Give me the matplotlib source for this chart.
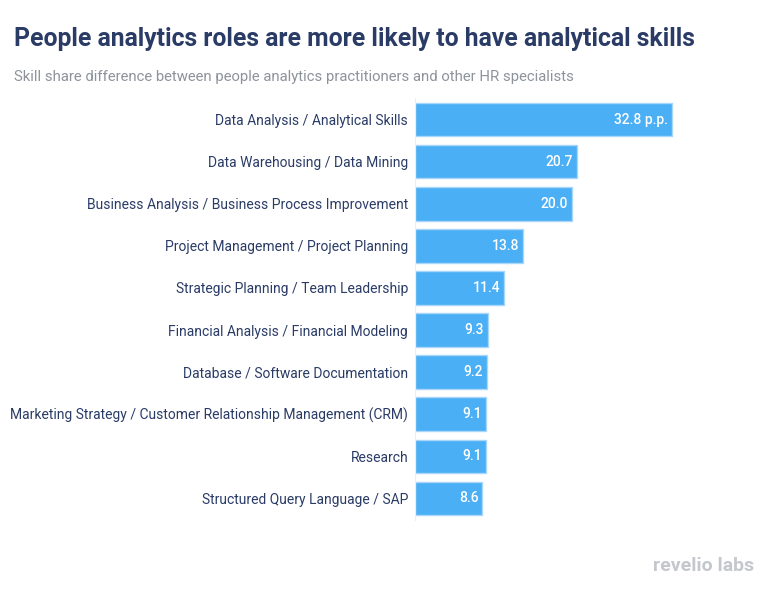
import matplotlib.pyplot as plt

# Data
skills = [
    "Data Analysis / Analytical Skills",
    "Data Warehousing / Data Mining",
    "Business Analysis / Business Process Improvement",
    "Project Management / Project Planning",
    "Strategic Planning / Team Leadership",
    "Financial Analysis / Financial Modeling",
    "Database / Software Documentation",
    "Marketing Strategy / Customer Relationship Management (CRM)",
    "Research",
    "Structured Query Language / SAP",
]
diff = [32.8, 20.7, 20.0, 13.8, 11.4, 9.3, 9.2, 9.1, 9.1, 8.6]
value_labels = ["32.8 p.p.", "20.7", "20.0", "13.8", "11.4", "9.3", "9.2", "9.1", "9.1", "8.6"]

navy = "#2a3b66"
grey = "#8c939b"
blue = "#4aaff5"

plt.rcParams["font.family"] = ["Roboto", "DejaVu Sans"]

fig = plt.figure(figsize=(7.64, 5.89), dpi=100)
ax = fig.add_axes([415 / 764, 1 - 520 / 589, 325 / 764, 422 / 589])

ypos = list(range(len(skills)))
ax.barh(ypos, diff, height=0.79, color=blue, edgecolor="#a9d6fb", linewidth=1)

for y, v, lab in zip(ypos, diff, value_labels):
    ax.text(v - 0.5, y, lab, color="white", fontsize=10, fontweight="medium",
            ha="right", va="center")

ax.set_xlim(0, 325 / 7.84)
ax.set_ylim(9.52, -0.52)
ax.set_yticks(ypos)
ax.set_yticklabels(skills, color=navy, fontsize=10)
ax.tick_params(axis="y", length=0, pad=5)
ax.set_xticks([])
for s in ["top", "right", "bottom"]:
    ax.spines[s].set_visible(False)
ax.spines["left"].set_color("#eeeeee")

# Titles
fig.text(14 / 764, 1 - 39 / 589, "People analytics roles are more likely to have analytical skills",
         color=navy, fontsize=17.8, fontweight="bold", va="center", ha="left")
fig.text(14 / 764, 1 - 77 / 589, "Skill share difference between people analytics practitioners and other HR specialists",
         color=grey, fontsize=10.75, va="center", ha="left")

# Logo
fig.text(754 / 764, 1 - 566 / 589, "revelio labs", color="#c4c7cc", fontsize=14,
         fontweight="bold", ha="right", va="center")

plt.savefig("out.png", dpi=100)
